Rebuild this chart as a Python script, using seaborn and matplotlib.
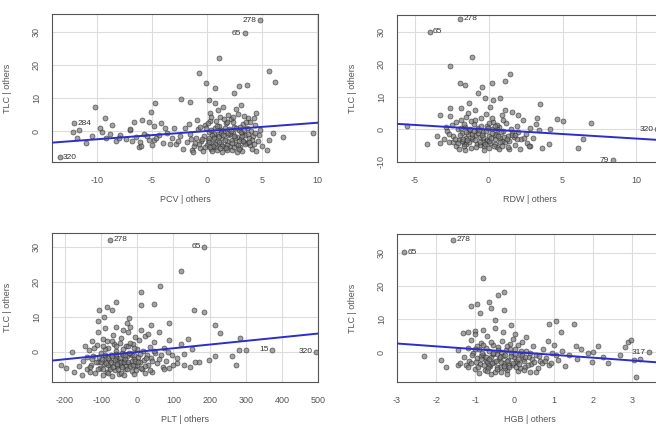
import numpy as np
import pandas as pd
import matplotlib
matplotlib.use('Agg')
import matplotlib.pyplot as plt
import seaborn as sns

# ---- data (x residual, TLC residual) ----
pcv_points = [
    (1.06, 22.0), (-0.75, 17.7), (5.66, 18.3), (6.15, 14.9), (-0.09, 14.6), (0.76, 12.9),
    (2.94, 13.6), (3.64, 14.1), (2.43, 11.4), (-2.33, 9.6), (-1.52, 8.9), (0.21, 9.4),
    (0.7, 8.4), (-10.15, 7.4), (-4.7, 8.4), (-5.06, 5.9), (3.12, 7.9), (4.45, 5.4),
    (-9.24, 3.8), (-8.64, 1.8), (-9.55, -0.2), (-11.66, 0.3), (-6.67, 2.8), (-5.9, 3.3),
    (-5.3, 2.8), (-6.97, 0.3), (9.67, -0.5), (6.94, -1.7), (6.03, -0.7), (5.6, -2.7),
    (5.42, -5.8), (1.8, -5.8), (-1.36, -5.8), (-6.2, -4.8), (-4.8, -2.7),
    (-1.8, -3.2), (-1.5, -1.0), (-1.2, -4.5), (-1.0, -2.1), (-0.8, 0.5), (-0.6, -5.2),
    (-0.5, -3.0), (-0.3, -1.4), (-0.2, 1.8), (0.0, -4.1), (0.1, -2.6), (0.2, -0.4),
    (0.3, 2.9), (0.4, -5.6), (0.5, -3.5), (0.6, -1.8), (0.7, 0.9), (0.8, -4.8),
    (0.9, -2.9), (1.0, -0.9), (1.1, 1.6), (1.2, 4.2), (1.3, -3.8), (1.4, -2.2),
    (1.5, -0.2), (1.6, -5.0), (1.7, 2.4), (1.8, -3.1), (1.9, -1.3), (2.0, 0.6),
    (2.1, -4.4), (2.2, 3.5), (2.3, -2.6), (2.4, -0.7), (2.5, 1.3), (2.6, -3.9),
    (2.7, -1.9), (2.8, 5.2), (2.9, 0.2), (3.0, -4.9), (3.1, -2.4), (3.2, -0.5),
    (3.3, 2.0), (3.4, -3.3), (3.5, -1.1), (3.6, 0.9), (3.7, 3.8), (3.8, -2.0),
    (3.9, -4.2), (4.0, 0.1), (4.2, -1.6), (4.4, 1.7), (4.6, -3.0), (4.8, 0.4),
    (-1.6, 2.1), (-0.9, 3.4), (0.3, 5.6), (1.0, 6.3), (1.9, 4.9), (2.6, 6.8),
    (3.4, 4.6), (0.5, -6.2), (1.4, -6.5), (2.3, -5.8), (3.2, -6.0), (-0.4, -6.0),
    (0.8, 3.1), (1.6, 1.0), (2.4, 2.6), (3.0, 1.1), (-0.1, 0.8), (0.6, -0.8),
    (1.3, 0.3), (2.1, -1.0), (2.9, -2.9), (3.6, -3.6), (1.1, -3.4), (1.8, -4.1),
    (0.2, -2.0), (2.5, -4.7), (4.1, -5.4), (-2.5, -1.6), (-2.8, -4.0), (-3.2, -2.2),
    (-3.6, -0.6), (-4.0, -3.5), (-4.4, -1.3), (-4.8, 1.5), (-5.3, -2.6), (-5.7, -0.9),
    (-6.1, -3.3), (-6.5, -1.8), (-7.0, 0.6), (-7.4, -2.4), (-7.9, -1.1), (-8.3, -3.0),
    (-8.8, -0.8), (-9.2, -2.0), (-9.7, 1.0), (-10.5, -1.5), (-11.0, -3.6), (-11.8, -2.0),
    (-12.2, -0.3), (-3.0, 0.8), (-4.2, 2.4), (-5.0, -4.2), (-6.0, -4.6), (-2.2, -5.4),
    (-1.3, -6.3), (0.9, -5.9), (2.7, -6.4), (1.5, 7.4), (0.4, 4.4), (-0.7, -3.8),
    (3.9, 2.6), (4.3, 4.0), (-2.0, 1.0), (4.7, -1.2), (5.0, -4.6), (4.5, -6.1),
    (0.15, -3.3), (0.45, -1.1), (0.75, -3.9), (1.05, -1.6), (1.35, -4.4), (1.65, -2.8),
    (1.95, -0.6), (2.25, -3.6), (2.55, -2.2), (2.85, -4.3), (3.15, -1.5), (3.45, -4.0),
    (3.75, -0.9), (4.05, -2.7), (0.35, 0.4), (1.25, -0.5), (2.15, 0.1), (3.05, -0.2),
    (0.55, -4.5), (1.75, -5.3), (2.95, -5.5), (3.85, -3.3), (-0.45, -2.5), (-0.15, -4.7),
    (-1.05, -3.5), (-1.45, -2.4), (0.95, 1.4), (1.85, 2.8), (2.65, 0.9), (3.35, 0.4),
    (-0.6, 1.2), (0.05, 2.3), (4.35, -0.6), (4.25, -4.0), (1.55, 3.5), (2.35, 4.2),
    (3.55, 2.8), (-2.6, -3.0), (-3.4, -3.8), (-4.6, -2.0), (-5.5, -1.5), (-6.8, -3.0),
    (-8.0, -2.0), (-3.8, 1.0), (0.65, -2.2), (1.15, -5.2), (2.45, -1.4), (3.25, -3.0),
    (0.25, -5.0), (1.45, -1.2),
    (4.8, 33.6), (3.45, 29.7), (-12.1, 2.4), (-13.4, -7.9),
]
pcv_labels = [("278", 4.8, 33.6, "left"), ("65", 3.45, 29.7, "left"),
              ("284", -12.1, 2.4, "right"), ("320", -13.4, -7.9, "right")]

rdw_points = [
    (-1.15, 22.4), (-2.6, 19.4), (-1.94, 14.3), (-1.6, 13.8), (-0.47, 13.2), (0.2, 14.3),
    (1.44, 17.1), (1.1, 14.8), (-0.7, 11.2), (-0.25, 9.7), (0.76, 9.7), (3.47, 7.9),
    (-2.6, 6.6), (-3.3, 4.6), (4.6, 3.1), (5.05, 2.5), (6.96, 2.0), (-5.5, 1.2),
    (-4.2, -4.6), (-3.5, -2.0), (4.15, 0.0), (6.06, -5.6), (6.4, -2.9), (3.58, -5.6),
    (4.1, -4.6), (2.8, -5.0), (1.4, -6.1), (-1.3, 8.2), (0.3, 9.0),
    (-3.0, -2.8), (-2.8, -0.5), (-2.7, -4.0), (-2.5, 1.5), (-2.4, -2.1), (-2.2, -5.0),
    (-2.1, 0.2), (-2.0, -3.3), (-1.9, 3.0), (-1.8, -1.2), (-1.7, -4.4), (-1.6, 0.9),
    (-1.5, -2.6), (-1.4, 5.2), (-1.3, -0.4), (-1.2, -5.6), (-1.1, -3.0), (-1.0, 1.7),
    (-0.9, -1.8), (-0.8, -4.6), (-0.7, 0.4), (-0.6, -2.4), (-0.5, 3.6), (-0.4, -0.9),
    (-0.3, -5.2), (-0.2, -3.6), (-0.1, 1.1), (0.0, -2.0), (0.1, -4.2), (0.2, 0.0),
    (0.3, 2.4), (0.4, -3.0), (0.5, -1.3), (0.6, -5.4), (0.7, 0.7), (0.8, -2.7),
    (0.9, 4.3), (1.0, -0.6), (1.1, -4.0), (1.2, 1.9), (1.3, -1.9), (1.4, -3.4),
    (1.5, 0.3), (1.6, 5.5), (1.7, -2.3), (1.8, -4.8), (1.9, 1.2), (2.0, -0.8),
    (2.2, -3.0), (2.3, 2.8), (2.5, -1.5), (2.6, -4.1), (2.8, 0.6), (3.0, -2.5),
    (3.2, 1.8), (3.4, -0.3), (-2.6, 4.2), (-1.9, 6.5), (-0.9, 5.9), (0.1, 6.8),
    (1.1, 6.1), (2.0, 4.6), (-1.2, 2.6), (-0.3, -6.3), (0.7, -6.0), (-1.6, -6.4),
    (-2.4, -3.8), (-0.6, -4.9), (0.4, -1.7), (-1.4, -1.5), (-0.1, -3.1), (1.3, -5.3),
    (-2.9, 0.9), (-1.1, -2.3), (-0.4, -4.0), (0.9, -3.6), (-1.8, -3.4), (0.2, 3.4),
    (2.7, -5.2), (3.3, 3.5), (-0.8, -0.1), (0.6, 1.5), (-2.2, 2.3), (1.6, -1.0),
    (-0.2, 4.8), (-1.5, -4.6), (2.1, -6.0), (-3.3, -4.3), (0.0, -5.8), (1.9, -2.9),
    (-1.95, -1.6), (-1.75, -2.9), (-1.55, -0.8), (-1.35, -4.0), (-1.15, -1.3), (-0.95, -3.2),
    (-0.75, -1.2), (-0.55, -3.8), (-0.35, -2.2), (-0.15, -0.6), (0.05, -3.4), (0.25, -1.2),
    (0.45, -4.6), (0.65, -2.0), (0.85, -0.9), (-1.85, 0.5), (-1.25, 0.2), (-0.65, -0.3),
    (-0.05, 0.4), (0.55, 0.1), (-2.3, -3.0), (-1.65, -5.2), (-0.85, -5.4), (-0.25, -4.6),
    (0.35, -5.0), (1.05, -2.4), (1.25, -3.0), (1.55, -1.8), (-2.05, -4.3), (-1.45, -3.3),
    (-0.45, -1.6), (0.15, -2.6), (0.75, -3.8), (-1.0, -0.4), (-0.5, 1.0), (0.4, 1.0),
    (-1.7, 1.8), (-2.7, -1.5), (1.8, -1.6), (2.4, -2.5), (-0.9, 3.0), (0.0, 2.0),
    (-1.5, 3.8), (1.0, 3.0), (-2.0, -6.0), (0.9, -5.0),
    (-4.0, 30.0), (-1.96, 34.0), (11.4, 0.0), (8.4, -9.5),
]
rdw_labels = [("65", -4.0, 30.0, "right"), ("278", -1.96, 34.0, "right"),
              ("320", 11.4, 0.0, "left"), ("79", 8.4, -9.5, "left")]

plt_points = [
    (120, 23.2), (62, 18.9), (9, 17.0), (9, 13.4), (46, 13.7), (-60, 14.4), (-83, 12.9),
    (-69, 12.0), (-106, 12.0), (-110, 8.7), (-92, 10.1), (-23, 9.6), (-28, 8.2), (157, 12.0),
    (184, 11.5), (216, 7.7), (230, 5.5), (87, 8.2), (37, 7.7), (285, 3.9), (262, -1.3),
    (272, -3.7), (216, -1.3), (198, -2.3), (170, -2.8), (147, -4.2), (129, -3.7), (110, -3.2),
    (87, -4.7), (-180, 0.1), (-175, -5.6), (-152, -6.6), (-198, -4.7), (-212, -3.7),
    (282, 0.6), (300, 0.6),
    (-150, -2.5), (-140, -5.0), (-135, 0.5), (-128, -3.6), (-122, -1.2), (-118, -6.0),
    (-112, 2.0), (-108, -2.8), (-104, -4.6), (-100, -0.4), (-96, 3.6), (-92, -3.4),
    (-88, -1.6), (-85, -5.6), (-82, 1.0), (-78, -2.4), (-75, -4.2), (-72, -0.8),
    (-68, 4.8), (-65, -3.0), (-62, -5.2), (-58, 0.4), (-55, -1.9), (-52, -6.3),
    (-48, 2.6), (-45, -3.8), (-42, -0.2), (-38, -2.6), (-35, -4.8), (-32, 1.6),
    (-28, -1.3), (-25, 5.6), (-22, -3.4), (-18, -0.6), (-15, -5.4), (-12, 2.2),
    (-8, -2.0), (-5, -4.0), (-2, 0.8), (2, -1.4), (5, 3.4), (8, -3.0), (12, -5.0),
    (15, 0.2), (18, -2.2), (22, 4.6), (26, -0.9), (30, -3.8), (34, 1.4), (38, -1.8),
    (42, -5.6), (46, 2.8), (50, -0.4), (55, -3.2), (60, 5.6), (65, -1.0), (70, -4.4),
    (75, 1.2), (80, -2.6), (88, 3.4), (95, -0.8), (100, -3.6), (-110, 5.8), (-90, 6.8),
    (-60, 7.2), (-40, 6.2), (-20, 7.0), (10, 6.4), (30, 5.2), (-130, -4.4), (-95, -6.6),
    (-70, -6.8), (-45, -5.9), (-10, -6.2), (20, -6.0), (-80, -3.6), (-50, -2.6),
    (-30, -4.0), (-15, -1.0), (0, -3.8), (-120, 1.2), (-60, -1.4), (-40, 0.8),
    (-100, -3.0), (-65, 2.4), (35, -5.2), (75, -4.8), (110, -1.6), (120, 2.4),
    (-145, 1.8), (-125, 3.0), (-105, -1.4), (-85, 3.2), (-55, -4.0), (-25, 1.8),
    (-5, 4.2), (45, 0.4), (60, -2.0), (85, 0.0), (130, -0.6), (140, 3.6), (150, 0.8),
    (160, -2.8),
    (-98, -2.0), (-94, -4.8), (-90, -0.9), (-86, -3.2), (-80, -1.8), (-76, -5.0),
    (-73, -3.0), (-69, -1.2), (-66, -4.2), (-63, -2.2), (-59, -0.6), (-56, -3.4),
    (-53, -5.0), (-49, -1.6), (-46, -2.8), (-43, -4.4), (-39, -0.9), (-36, -3.0),
    (-33, -1.9), (-29, -5.0), (-26, -2.8), (-23, -0.4), (-19, -4.0), (-16, -2.6),
    (-13, -3.6), (-9, -1.0), (-6, -2.6), (-3, -5.2), (3, -2.8), (7, -0.6),
    (-115, -3.0), (-110, -4.8), (-125, -2.0), (-132, -5.6), (-88, 0.8), (-58, 1.8),
    (-35, -1.0), (-10, 1.2), (20, -4.0), (40, -2.6), (-70, 3.0), (-45, 4.0),
    (-95, 1.6), (-20, 2.6), (10, -4.6), (25, -1.6), (-140, -1.4), (-160, -4.0),
    (-82, -6.0), (-38, -6.6),
    (-75, 32.0), (185, 30.0), (373, 0.6), (495, 0.0),
]
plt_labels = [("278", -75, 32.0, "right"), ("65", 185, 30.0, "left"),
              ("15", 373, 0.6, "left"), ("320", 495, 0.0, "left")]

hgb_points = [
    (-0.81, 22.6), (-0.43, 17.3), (-0.26, 18.1), (-0.64, 15.2), (-1.1, 13.9), (-0.95, 14.5),
    (-0.6, 13.2), (-0.26, 12.7), (-0.87, 11.7), (-0.51, 9.7), (-0.08, 8.2), (0.89, 8.5),
    (1.06, 9.4), (1.53, 8.5), (1.19, 6.2), (-1.32, 5.7), (-1.19, 6.2), (-1.02, 6.4),
    (-2.3, -1.2), (-1.87, -2.4), (-1.74, -4.5), (-1.45, -3.9), (1.57, 1.8), (1.87, -0.4),
    (2.13, 1.8), (2.25, -1.4), (2.38, -3.4), (2.89, 3.1), (2.98, 3.6), (2.81, 1.6),
    (3.1, -7.5), (3.06, -2.4), (1.99, -2.9), (3.2, -2.0), (2.7, -0.8),
    (-1.3, -1.5), (-1.25, -4.0), (-1.2, 1.2), (-1.15, -2.8), (-1.1, 3.6), (-1.05, -0.3),
    (-1.0, -5.2), (-0.95, -1.9), (-0.9, 0.8), (-0.88, -3.6), (-0.85, 2.6), (-0.8, -0.9),
    (-0.76, -5.6), (-0.72, -2.4), (-0.7, 4.8), (-0.66, 0.2), (-0.62, -4.2), (-0.6, -1.4),
    (-0.56, 2.0), (-0.52, -3.1), (-0.5, -6.1), (-0.46, -0.5), (-0.42, 1.4), (-0.4, -2.0),
    (-0.36, -4.7), (-0.32, 3.2), (-0.3, -1.1), (-0.26, -3.4), (-0.22, 0.6), (-0.2, -5.4),
    (-0.16, -2.3), (-0.12, 2.4), (-0.1, -0.2), (-0.06, -4.0), (-0.02, -1.6), (0.02, 1.0),
    (0.06, -3.0), (0.1, -5.8), (0.14, -0.7), (0.18, 3.0), (0.22, -2.2), (0.26, -4.4),
    (0.3, 0.4), (0.36, -1.4), (0.42, -3.6), (0.48, 1.8), (0.54, -0.8), (0.6, -5.0),
    (0.66, -2.6), (0.72, 0.9), (0.8, -1.8), (0.88, -4.0), (0.95, -0.2), (-1.0, 5.6),
    (-0.8, 6.6), (-0.5, 7.2), (-0.3, 6.0), (0.0, 5.4), (0.3, 4.6), (-0.9, -6.4),
    (-0.6, -6.8), (-0.2, -6.6), (0.4, -6.2), (-1.1, -3.3), (-0.7, -2.9), (-0.45, -4.4),
    (-0.15, -3.8), (0.2, -1.0), (-0.55, -0.6), (-0.85, -1.2), (-0.35, 0.0), (0.05, -2.6),
    (0.45, -2.0), (0.7, -3.4), (1.0, 2.2), (1.1, -2.4), (1.2, 0.4), (1.3, -4.2),
    (1.4, -1.0), (-1.45, 0.6), (-1.4, -3.2), (0.85, 3.4), (-0.65, -3.8), (-0.25, -5.0),
    (0.15, -4.8), (-0.95, 1.8), (-0.05, 3.8), (0.55, -6.0),
    (-0.98, -3.0), (-0.92, -4.6), (-0.86, -2.2), (-0.82, -0.4), (-0.78, -3.8), (-0.74, -1.6),
    (-0.68, -4.9), (-0.64, -2.0), (-0.58, -3.3), (-0.54, -0.2), (-0.48, -2.6), (-0.44, -5.2),
    (-0.38, -1.6), (-0.34, -3.0), (-0.28, -4.2), (-0.24, -0.8), (-0.18, -2.8), (-0.14, -4.5),
    (-0.08, -1.2), (-0.04, -3.3), (0.0, -0.6), (0.04, -4.6), (0.08, -2.0), (0.12, -3.5),
    (0.16, 0.2), (0.24, -2.8), (0.28, -1.6), (0.34, -4.0), (0.4, -0.4), (0.5, -3.0),
    (-1.08, -1.0), (-1.18, -4.6), (-1.02, 1.0), (-0.72, 1.2), (-0.42, 0.6), (-0.12, 0.8),
    (0.62, -1.2), (0.78, -2.8), (0.92, -3.2), (1.05, -1.0), (-0.6, 3.0), (-0.2, 1.8),
    (-0.8, 2.0), (0.1, 2.0), (-0.35, -6.0), (0.25, -5.6), (-0.7, -5.8), (1.6, -2.0),
    (1.7, 0.8), (2.0, 0.0),
    (-2.81, 30.3), (-1.58, 34.0), (3.44, 0.0),
]
hgb_labels = [("65", -2.81, 30.3, "right"), ("278", -1.58, 34.0, "right"),
              ("317", 3.44, 0.0, "left")]

x_names = ["PCV | others", "RDW | others", "PLT | others", "HGB | others"]
slopes = [0.25, -0.28, 0.0105, -0.86]
x_limits = [(-14.1, 10.1), (-6.2, 11.8), (-236, 500), (-3.0, 3.79)]
y_limits = [(-9.4, 35.5), (-9.8, 35.2), (-8.6, 34.0), (-9.1, 35.8)]
x_ticks = [[-10, -5, 0, 5, 10], [-5, 0, 5, 10],
           [-200, -100, 0, 100, 200, 300, 400, 500], [-3, -2, -1, 0, 1, 2, 3]]
y_ticks = [[0, 10, 20, 30], [-10, 0, 10, 20, 30], [0, 10, 20, 30], [0, 10, 20, 30]]

all_points = [pcv_points, rdw_points, plt_points, hgb_points]
all_labels = [pcv_labels, rdw_labels, plt_labels, hgb_labels]

sns.set_style("white")
plt.rcParams['font.family'] = ['Liberation Sans', 'DejaVu Sans']
plt.rcParams['axes.unicode_minus'] = False

W, H = 656, 430
# axes boxes in pixels: left, top, right, bottom
boxes = [(52, 14, 318, 162), (397, 15, 663, 162),
         (52, 233, 318, 382), (397, 234, 663, 382)]

fig = plt.figure(figsize=(W / 100, H / 100), dpi=100)
fig.patch.set_facecolor('white')

for i in range(4):
    l, t, r, b = boxes[i]
    ax = fig.add_axes([l / W, (H - b) / H, (r - l) / W, (b - t) / H])
    df = pd.DataFrame(all_points[i], columns=['x', 'y'])

    ax.set_axisbelow(True)
    for xv in x_ticks[i]:
        ax.axvline(xv, color='#dcdcdc', lw=0.8, zorder=0)
    for yv in y_ticks[i]:
        ax.axhline(yv, color='#dcdcdc', lw=0.8, zorder=0)

    sns.scatterplot(data=df, x='x', y='y', ax=ax, s=13, color='#7d7d7d',
                    edgecolor='#222222', linewidth=0.5, alpha=0.7, zorder=2)
    ax.axline((0, 0), slope=slopes[i], color='#2c2ccf', lw=1.4, zorder=3)

    for txt, px, py, side in all_labels[i]:
        if side == "left":
            ax.annotate(txt, (px, py), xytext=(-2.5, 0), textcoords='offset points',
                        ha='right', va='center', fontsize=6, color='#333333')
        else:
            ax.annotate(txt, (px, py), xytext=(2.5, 0), textcoords='offset points',
                        ha='left', va='center', fontsize=6, color='#333333')

    ax.set_xlim(*x_limits[i])
    ax.set_ylim(*y_limits[i])
    ax.set_xticks(x_ticks[i])
    ax.set_yticks(y_ticks[i])
    for sp in ax.spines.values():
        sp.set_color('#555555')
        sp.set_linewidth(0.8)
    ax.tick_params(direction='out', length=4, width=0.7, colors='#555555',
                   labelcolor='#555555', labelsize=6.5)
    ax.tick_params(axis='x', pad=6)
    ax.tick_params(axis='y', pad=4, labelrotation=90)
    for lab in ax.get_yticklabels():
        lab.set_va('center')
    ax.set_xlabel(x_names[i], fontsize=6.5, color='#555555', labelpad=7)
    ax.set_ylabel("TLC | others", fontsize=6.5, color='#555555', labelpad=14)

fig.savefig('out.png', dpi=100)
